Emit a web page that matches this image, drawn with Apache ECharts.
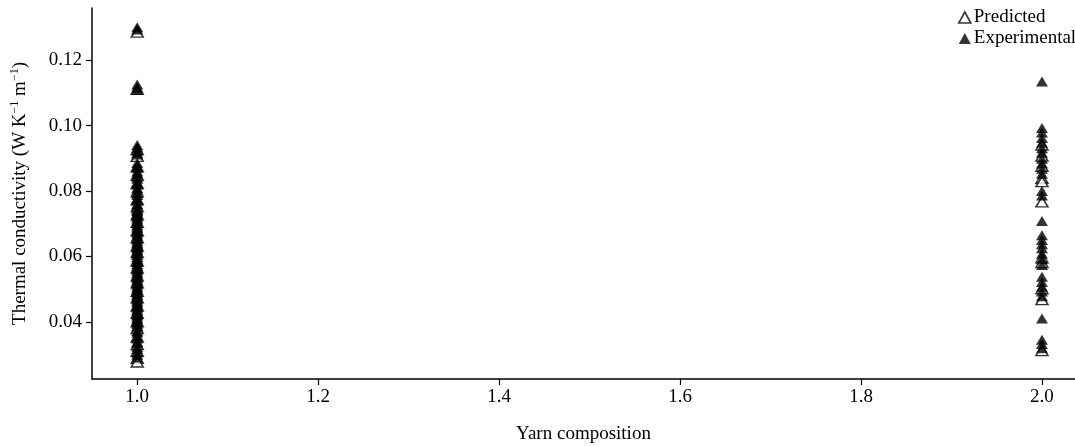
<!DOCTYPE html>
<html>
<head>
<meta charset="utf-8">
<script src="https://cdn.jsdelivr.net/npm/echarts@6/dist/echarts.min.js"></script>
<style>
  html, body { margin: 0; padding: 0; background: #fff; }
  #chart { width: 1075px; height: 447px; }
</style>
</head>
<body>
<div id="chart"></div>
<script>
// Yarn composition groups on the x axis
const compositions = [1.0, 2.0];

// Thermal conductivity (W K^-1 m^-1), composition 1.0
const experimental1 = [0.1301, 0.1294, 0.1126, 0.1117, 0.1109, 0.0941, 0.0933, 0.0924, 0.0917, 0.0912,
  0.0886, 0.0877, 0.0871, 0.0860, 0.0853, 0.0844, 0.0838, 0.0826, 0.0820, 0.0809, 0.0804, 0.0793,
  0.0788, 0.0777, 0.0771, 0.0760, 0.0756, 0.0745, 0.0739, 0.0729, 0.0723, 0.0713, 0.0707, 0.0696,
  0.0691, 0.0680, 0.0675, 0.0663, 0.0658, 0.0648, 0.0642, 0.0631, 0.0626, 0.0615, 0.0610, 0.0598,
  0.0593, 0.0583, 0.0577, 0.0566, 0.0561, 0.0550, 0.0545, 0.0534, 0.0529, 0.0518, 0.0513, 0.0502,
  0.0497, 0.0486, 0.0481, 0.0469, 0.0464, 0.0453, 0.0448, 0.0437, 0.0432, 0.0421, 0.0416, 0.0405,
  0.0399, 0.0388, 0.0383, 0.0372, 0.0367, 0.0356, 0.0349, 0.0339, 0.0334, 0.0323, 0.0317, 0.0306,
  0.0299, 0.0291,
  0.0742, 0.0734, 0.0718, 0.0702, 0.0686, 0.0669, 0.0653, 0.0637, 0.0621, 0.0604, 0.0588, 0.0572,
  0.0556, 0.0540, 0.0524, 0.0507, 0.0491, 0.0475, 0.0459, 0.0443, 0.0427, 0.0410, 0.0394];
const predicted1 = [0.1286, 0.1111, 0.0927, 0.0906, 0.0874, 0.0848, 0.0823, 0.0798, 0.0773, 0.0752,
  0.0727, 0.0704, 0.0678, 0.0657, 0.0632, 0.0612, 0.0586, 0.0564, 0.0540, 0.0519, 0.0493, 0.0473,
  0.0448, 0.0426, 0.0400, 0.0379, 0.0353, 0.0330, 0.0310, 0.0288, 0.0277];

// Thermal conductivity (W K^-1 m^-1), composition 2.0
const experimental2 = [0.1135, 0.0993, 0.0979, 0.0962, 0.0948, 0.0931, 0.0917, 0.0899, 0.0884, 0.0868,
  0.0853, 0.0800, 0.0786, 0.0708, 0.0665, 0.0650, 0.0637, 0.0625, 0.0608, 0.0591, 0.0574, 0.0538,
  0.0522, 0.0507, 0.0493, 0.0478, 0.0410, 0.0345, 0.0332, 0.0319];
const predicted2 = [0.0941, 0.0907, 0.0876, 0.0839, 0.0829, 0.0767, 0.0596, 0.0581, 0.0501, 0.0468,
  0.0312];

// Axis tick labels
const xTicks = [1.0, 1.2, 1.4, 1.6, 1.8, 2.0];
const yTicks = [0.04, 0.06, 0.08, 0.10, 0.12];

function pairs(x, values) {
  return values.map(v => [x, v]);
}

const FONT = 'Liberation Serif';
const FS = 19;
const chart = echarts.init(document.getElementById('chart'), null, { renderer: 'canvas' });

chart.setOption({
  animation: false,
  backgroundColor: '#ffffff',
  textStyle: { fontFamily: FONT, color: '#000' },
  grid: { left: 92, right: 0, top: 8, bottom: 68, containLabel: false, outerBoundsMode: 'none' },
  legend: {
    orient: 'vertical',
    left: 953,
    top: 3,
    itemWidth: 12,
    itemHeight: 11,
    itemGap: 2,
    textStyle: { fontFamily: FONT, fontSize: FS, color: '#000', padding: [0, 0, 0, -2] },
    data: [
      { name: 'Predicted', icon: 'triangle', itemStyle: { color: '#fff', borderColor: '#000', borderWidth: 1.6 } },
      { name: 'Experimental', icon: 'triangle', itemStyle: { color: '#000', borderWidth: 0 } }
    ]
  },
  xAxis: {
    type: 'value',
    min: 0.95,
    max: 2.0365,
    name: 'Yarn composition',
    nameLocation: 'middle',
    nameGap: 46,
    nameTextStyle: { fontFamily: FONT, fontSize: FS, color: '#000' },
    splitLine: { show: false },
    axisLine: { show: true, onZero: false, lineStyle: { color: '#000', width: 1.5 } },
    axisTick: { show: true, length: 6, customValues: xTicks, lineStyle: { color: '#000', width: 1.2 } },
    axisLabel: {
      customValues: xTicks,
      margin: 9,
      fontFamily: FONT, fontSize: FS, color: '#000',
      formatter: v => v.toFixed(1)
    }
  },
  yAxis: {
    type: 'value',
    min: 0.0225,
    max: 0.136,
    name: 'Thermal conductivity (W K{sup|−1} m{sup|−1})',
    nameLocation: 'middle',
    nameGap: 61,
    nameTextStyle: {
      fontFamily: FONT, fontSize: FS, color: '#000',
      rich: { sup: { fontFamily: FONT, fontSize: 12, verticalAlign: 'top', padding: [0, 0, 10, 0], color: '#000' } }
    },
    splitLine: { show: false },
    axisLine: { show: true, onZero: false, lineStyle: { color: '#000', width: 1.5 } },
    axisTick: { show: true, length: 6, customValues: yTicks, lineStyle: { color: '#000', width: 1.2 } },
    axisLabel: {
      customValues: yTicks,
      margin: 10,
      fontFamily: FONT, fontSize: FS, color: '#000',
      formatter: v => v.toFixed(2)
    }
  },
  series: [
    {
      name: 'Predicted',
      type: 'scatter',
      symbol: 'triangle',
      symbolSize: [12, 10],
      itemStyle: { color: '#fff', borderColor: '#000', borderWidth: 1.5 },
      data: pairs(compositions[0], predicted1).concat(pairs(compositions[1], predicted2))
    },
    {
      name: 'Experimental',
      type: 'scatter',
      symbol: 'triangle',
      symbolSize: [12, 10],
      itemStyle: { color: '#000' },
      data: pairs(compositions[0], experimental1).concat(pairs(compositions[1], experimental2))
    }
  ]
});
</script>
</body>
</html>
